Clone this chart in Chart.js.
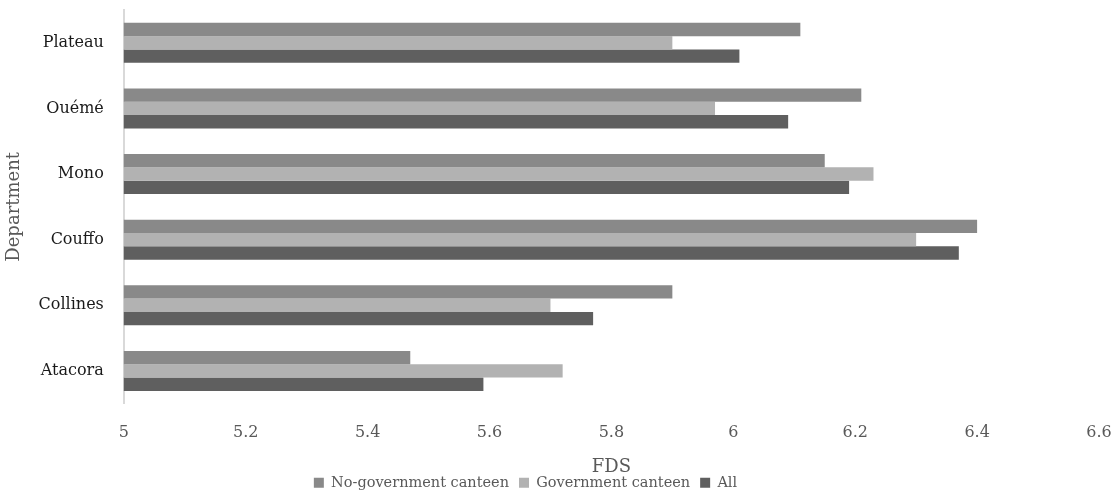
<!DOCTYPE html>
<html>
<head>
<meta charset="utf-8">
<script src="https://cdn.jsdelivr.net/npm/chart.js@4/dist/chart.umd.min.js"></script>
<style>
html,body{margin:0;padding:0;background:#fff;}
#wrap{width:1118px;height:495px;position:relative;}
</style>
</head>
<body>
<div id="wrap"><canvas id="c"></canvas></div>
<script>
const categories = ["Plateau", "Ouémé", "Mono", "Couffo", "Collines", "Atacora"];
const noGovernment = [6.11, 6.21, 6.15, 6.40, 5.90, 5.47];
const government = [5.90, 5.97, 6.23, 6.30, 5.70, 5.72];
const allValues = [6.01, 6.09, 6.19, 6.37, 5.77, 5.59];
const seriesNames = ["No-government canteen", "Government canteen", "All"];
const xTitle = "FDS";
const yTitle = "Department";

const FONT = "'DejaVu Serif', serif";
const shiftLegend = {
  id: 'shiftLegend',
  afterLayout(chart) {
    if (chart.legend) { chart.legend.left -= 50; }
  }
};
new Chart(document.getElementById('c'), {
  type: 'bar',
  data: {
    labels: categories,
    datasets: [
      {label: seriesNames[0], data: noGovernment, backgroundColor: '#898989', borderWidth: 0},
      {label: seriesNames[1], data: government, backgroundColor: '#b2b2b2', borderWidth: 0},
      {label: seriesNames[2], data: allValues, backgroundColor: '#5f5f5f', borderWidth: 0}
    ]
  },
  plugins: [shiftLegend],
  options: {
    indexAxis: 'y',
    responsive: true,
    maintainAspectRatio: false,
    animation: false,
    layout: {padding: {left: 2, right: 19, top: 10, bottom: -5}},
    datasets: {bar: {categoryPercentage: 0.61, barPercentage: 1.0}},
    scales: {
      x: {
        min: 5, max: 6.6,
        afterFit: s => { s.paddingRight = 0; s.paddingLeft = 0; },
        ticks: {stepSize: 0.2, color: '#595959', font: {family: FONT, size: 16}, padding: 20,
          callback: v => String(Math.round(v * 10) / 10)},
        grid: {display: false, drawTicks: false},
        border: {display: false},
        title: {display: true, text: xTitle, color: '#595959', font: {family: FONT, size: 18}, padding: {top: -6, bottom: -13}}
      },
      y: {
        afterFit: s => { s.paddingTop = 0; s.paddingBottom = 0; },
        ticks: {color: '#1a1a1a', font: {family: FONT, size: 16}, padding: 20},
        grid: {display: false, drawTicks: false},
        border: {display: true, color: '#d9d9d9', width: 2},
        title: {display: true, text: yTitle, color: '#595959', font: {family: FONT, size: 18}, padding: {top: 2, bottom: -7}}
      }
    },
    plugins: {
      legend: {
        position: 'bottom',
        labels: {boxWidth: 10, boxHeight: 10, color: '#595959', font: {family: FONT, size: 14.5}, padding: 10}
      },
      tooltip: {enabled: false}
    }
  }
});
</script>
</body>
</html>
